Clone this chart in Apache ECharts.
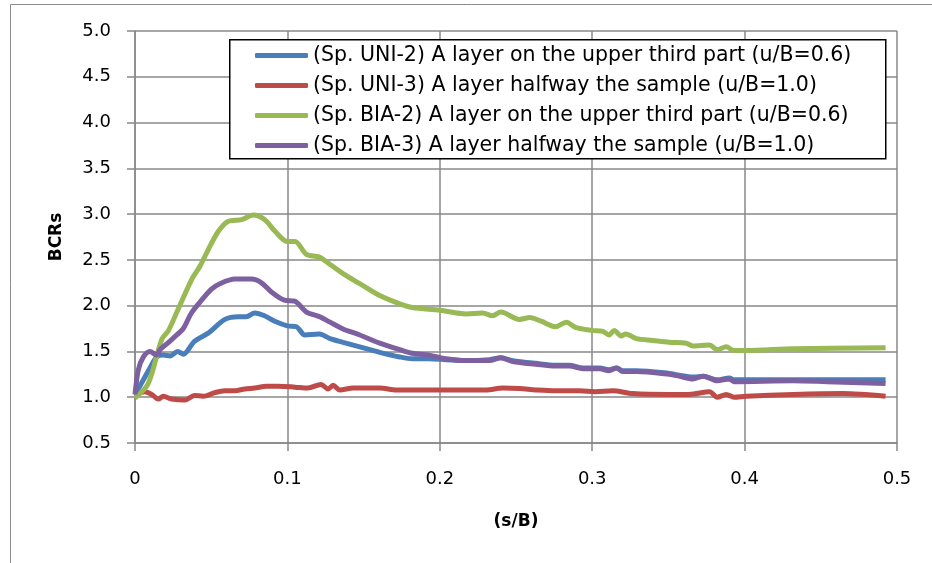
<!DOCTYPE html>
<html>
<head>
<meta charset="utf-8">
<title>BCRs vs s/B</title>
<script src="https://cdn.jsdelivr.net/npm/echarts@6/dist/echarts.min.js"></script>
<style>
  html, body { margin: 0; padding: 0; background: #fff; }
  #main { width: 932px; height: 563px; }
</style>
</head>
<body>
<div id="main"></div>
<script>
// series names (legend)
var names = [
    '(Sp. UNI-2) A layer on the upper third part (u/B=0.6)',
    '(Sp. UNI-3) A layer halfway the sample (u/B=1.0)',
    '(Sp. BIA-2) A layer on the upper third part (u/B=0.6)',
    '(Sp. BIA-3) A layer halfway the sample (u/B=1.0)'
];
var colors = ['#4a7ebb', '#be4b48', '#98b954', '#7d60a0'];

// UNI-2 (blue)
var uni2X = [0, 0.0055, 0.0098, 0.0142, 0.0186, 0.023, 0.028, 0.0317, 0.039, 0.048, 0.059, 0.0677, 0.073, 0.0786, 0.085, 0.0917, 0.100, 0.106, 0.1114, 0.121, 0.128, 0.1365, 0.1475, 0.1606, 0.1737, 0.182, 0.193, 0.204, 0.2174, 0.2326, 0.240, 0.2478, 0.263, 0.276, 0.285, 0.294, 0.305, 0.311, 0.316, 0.320, 0.329, 0.3506, 0.357, 0.366, 0.373, 0.382, 0.390, 0.393, 0.432, 0.454, 0.4925];
var uni2Y = [1.03, 1.19, 1.32, 1.44, 1.46, 1.45, 1.50, 1.47, 1.61, 1.70, 1.85, 1.88, 1.88, 1.92, 1.89, 1.83, 1.78, 1.77, 1.68, 1.69, 1.64, 1.60, 1.55, 1.49, 1.44, 1.42, 1.42, 1.41, 1.40, 1.41, 1.43, 1.40, 1.37, 1.35, 1.35, 1.32, 1.32, 1.30, 1.32, 1.29, 1.29, 1.26, 1.24, 1.22, 1.23, 1.19, 1.21, 1.19, 1.19, 1.19, 1.19];

// UNI-3 (red)
var uni3X = [0, 0.0066, 0.011, 0.0153, 0.0186, 0.024, 0.0328, 0.039, 0.0448, 0.0524, 0.059, 0.0655, 0.072, 0.0786, 0.0863, 0.094, 0.105, 0.1135, 0.122, 0.1267, 0.130, 0.1343, 0.1432, 0.1606, 0.1715, 0.20, 0.2174, 0.2304, 0.2413, 0.2523, 0.263, 0.276, 0.2915, 0.302, 0.3134, 0.3265, 0.3506, 0.3637, 0.377, 0.382, 0.388, 0.393, 0.401, 0.432, 0.4645, 0.4925];
var uni3Y = [1.03, 1.06, 1.03, 0.98, 1.01, 0.98, 0.97, 1.02, 1.01, 1.05, 1.07, 1.07, 1.09, 1.10, 1.12, 1.12, 1.11, 1.10, 1.14, 1.09, 1.13, 1.08, 1.10, 1.10, 1.08, 1.08, 1.08, 1.08, 1.10, 1.095, 1.08, 1.07, 1.07, 1.06, 1.07, 1.04, 1.03, 1.03, 1.06, 1.00, 1.03, 1.00, 1.01, 1.03, 1.04, 1.01];

// BIA-2 (green)
var bia2X = [0, 0.0087, 0.0175, 0.022, 0.028, 0.037, 0.0426, 0.048, 0.0546, 0.061, 0.070, 0.0775, 0.085, 0.092, 0.100, 0.105, 0.1125, 0.121, 0.128, 0.1365, 0.1475, 0.1606, 0.1737, 0.182, 0.20, 0.2174, 0.228, 0.2346, 0.240, 0.2523, 0.259, 0.2665, 0.276, 0.283, 0.2894, 0.300, 0.307, 0.311, 0.3145, 0.319, 0.322, 0.329, 0.3397, 0.3506, 0.3616, 0.366, 0.377, 0.382, 0.388, 0.393, 0.401, 0.432, 0.4925];
var bia2Y = [0.99, 1.15, 1.63, 1.73, 1.95, 2.28, 2.43, 2.61, 2.81, 2.92, 2.94, 2.99, 2.94, 2.81, 2.70, 2.70, 2.56, 2.53, 2.45, 2.35, 2.24, 2.11, 2.02, 1.98, 1.95, 1.91, 1.92, 1.89, 1.93, 1.85, 1.87, 1.83, 1.77, 1.82, 1.76, 1.73, 1.72, 1.68, 1.73, 1.67, 1.69, 1.64, 1.62, 1.60, 1.59, 1.56, 1.57, 1.52, 1.55, 1.51, 1.51, 1.53, 1.54];

// BIA-3 (purple)
var bia3X = [0, 0.0022, 0.0055, 0.0098, 0.0142, 0.0164, 0.0207, 0.026, 0.0317, 0.037, 0.0437, 0.0502, 0.0557, 0.0655, 0.0764, 0.083, 0.0895, 0.098, 0.1048, 0.1125, 0.121, 0.128, 0.1365, 0.1475, 0.1606, 0.1737, 0.182, 0.193, 0.204, 0.2174, 0.2326, 0.240, 0.2478, 0.263, 0.276, 0.285, 0.294, 0.305, 0.311, 0.316, 0.320, 0.329, 0.3506, 0.357, 0.366, 0.373, 0.382, 0.390, 0.393, 0.432, 0.454, 0.4925];
var bia3Y = [1.03, 1.30, 1.44, 1.50, 1.46, 1.52, 1.58, 1.66, 1.75, 1.92, 2.06, 2.18, 2.24, 2.29, 2.29, 2.25, 2.15, 2.06, 2.05, 1.93, 1.88, 1.82, 1.745, 1.68, 1.59, 1.52, 1.48, 1.46, 1.42, 1.40, 1.40, 1.43, 1.39, 1.36, 1.34, 1.34, 1.31, 1.31, 1.29, 1.32, 1.28, 1.28, 1.25, 1.23, 1.20, 1.23, 1.18, 1.20, 1.17, 1.18, 1.17, 1.15];

var xsList = [uni2X, uni3X, bia2X, bia3X];
var ysList = [uni2Y, uni3Y, bia2Y, bia3Y];

function pairs(xs, ys) {
    var out = [];
    for (var i = 0; i < xs.length; i++) {
        out.push([xs[i], ys[i]]);
    }
    return out;
}

var font = 'DejaVu Sans';
var gridColor = '#888888';

var series = [];
for (var i = 0; i < names.length; i++) {
    series.push({
        name: names[i],
        type: 'line',
        data: pairs(xsList[i], ysList[i]),
        showSymbol: false,
        smooth: 0.3,
        lineStyle: { color: colors[i], width: 5 },
        itemStyle: { color: colors[i] },
        z: 2 + i
    });
}

var myChart = echarts.init(document.getElementById('main'));
var option = {
    backgroundColor: '#fff',
    animation: false,
    textStyle: { fontFamily: font },
    grid: { left: 135, right: 35, top: 31, bottom: 120 },
    graphic: {
        elements: [
            {   // outer chart frame
                type: 'rect', left: 8, top: 2, z: 0,
                shape: { width: 1000, height: 1000 },
                style: { fill: 'none', stroke: '#8c8c8c', lineWidth: 1 }
            },
            {   // legend box
                type: 'rect', left: 229, top: 39, z: 10,
                shape: { width: 656, height: 119 },
                style: { fill: '#fff', stroke: '#000', lineWidth: 1.5 }
            }
        ]
    },
    legend: {
        orient: 'vertical',
        left: 255,
        top: 45,
        z: 20,
        padding: 0,
        itemWidth: 53,
        itemHeight: 5,
        itemGap: 9,
        icon: 'roundRect',
        data: names,
        textStyle: { fontFamily: font, fontSize: 20.5, color: '#000', lineHeight: 20 }
    },
    xAxis: {
        type: 'value',
        min: 0, max: 0.5, interval: 0.1,
        name: '(s/B)',
        nameLocation: 'middle',
        nameGap: 70,
        nameTextStyle: { fontFamily: font, fontSize: 17, fontWeight: 'bold', color: '#000' },
        axisLine: { lineStyle: { color: gridColor, width: 1.5 } },
        axisTick: { show: true, length: 8, lineStyle: { color: gridColor, width: 1.5 } },
        axisLabel: {
            fontSize: 18, color: '#000', margin: 27,
            formatter: function (v) { return v === 0 ? '0' : v.toFixed(1); }
        },
        splitLine: { show: true, lineStyle: { color: gridColor, width: 1.5 } }
    },
    yAxis: {
        type: 'value',
        min: 0.5, max: 5.0, interval: 0.5,
        name: 'BCRs',
        nameLocation: 'middle',
        nameGap: 70,
        nameRotate: 90,
        nameTextStyle: { fontFamily: font, fontSize: 17, fontWeight: 'bold', color: '#000' },
        axisLine: { show: true, lineStyle: { color: gridColor, width: 1.5 } },
        axisTick: { show: true, length: 8, lineStyle: { color: gridColor, width: 1.5 } },
        axisLabel: {
            fontSize: 18, color: '#000', margin: 24,
            formatter: function (v) { return v.toFixed(1); }
        },
        splitLine: { show: true, lineStyle: { color: gridColor, width: 1.5 } }
    },
    series: series
};
myChart.setOption(option);
</script>
</body>
</html>
